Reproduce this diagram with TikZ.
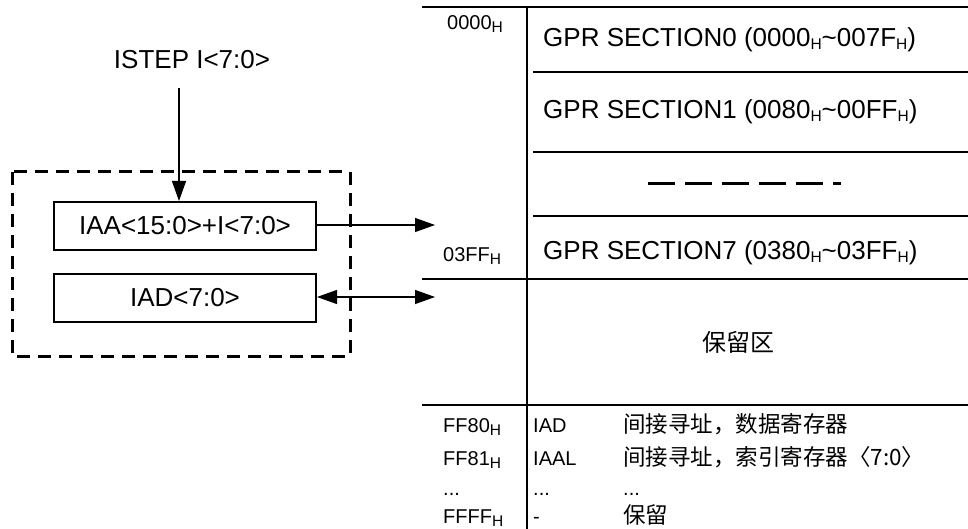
\documentclass[tikz,border=0pt]{standalone}
\usepackage{fontspec}
\setmainfont{Liberation Sans}
\newfontfamily\cjk{Noto Sans CJK SC}
\usetikzlibrary{arrows.meta}
\newcommand{\hx}{\raisebox{-3pt}{\fontsize{15.5}{16}\selectfont H}}
\tikzset{
	reg/.style={draw, line width=2pt, minimum width=262pt, minimum height=48pt, inner sep=0pt, font=\fontsize{26}{30}\selectfont},
	big/.style={inner sep=0pt, font=\fontsize{26}{30}\selectfont},
	addr/.style={inner sep=0pt, anchor=base west, font=\fontsize{20}{22}\selectfont},
	row/.style={inner sep=0pt, anchor=base west, font=\fontsize{20}{22}\selectfont},
	rowcn/.style={inner sep=0pt, anchor=base west, font=\fontsize{22.5}{24}\cjk},
	bus/.style={-{Triangle[length=20pt,width=14pt]}, line width=1.3pt},
	tline/.style={line width=1.3pt},
}
\begin{document}
\begin{tikzpicture}[x=1pt, y=-1pt]
	\useasboundingbox (0,0) rectangle (968,529);
	\draw [line width=3pt, dash pattern=on 13pt off 8pt] (12,172) rectangle (350,356);
	\node [reg] (iaa) at (185,226) {IAA<15:0>+I<7:0>};
	\node [reg] (iad) at (185,298) {IAD<7:0>};
	\node [big, anchor=base] (istep) at (192,69) {ISTEP I<7:0>};
	\coordinate (stepin) at (179,88);
	\coordinate (aout) at (435,225);
	\coordinate (dout) at (435,297);
	\draw [bus] (stepin) -- (stepin |- iaa.north);
	\draw [bus] (iaa.east |- aout) -- (aout);
	\draw [bus, {Triangle[length=20pt,width=14pt]}-{Triangle[length=20pt,width=14pt]}] (iad.east |- dout) -- (dout);
	
	\draw [tline] (422,7) -- (968,7);
	\draw [tline] (527,7) -- (527,529);
	\foreach \y in {72,152,216}
		\draw [tline] (533,\y) -- (968,\y);
	\draw [tline] (422,279) -- (968,279);
	\draw [tline] (422,405) -- (968,405);
	\draw [line width=3pt, dash pattern=on 27pt off 10pt] (648,184) -- (841,184);
	
	\node [addr] (a0) at (447,30) {0000\hx};
	\node [addr] (a7) at (443,261) {03FF\hx};
	\node [big, anchor=base west] (s0) at (543,47) {GPR SECTION0 (0000\hx\textasciitilde 007F\hx)};
	\node [big, anchor=base west] (s1) at (543,119) {GPR SECTION1 (0080\hx\textasciitilde 00FF\hx)};
	\node [big, anchor=base west] (s7) at (543,259) {GPR SECTION7 (0380\hx\textasciitilde 03FF\hx)};
	\node [inner sep=0pt, font=\fontsize{24}{28}\cjk] (rsv) at (738,342) {保留区};
	
	\node [row] (r0a) at (443,432) {FF80\hx};
	\node [row] (r0b) at (533,432) {IAD};
	\node [rowcn] (r0c) at (623,432) {间接寻址，数据寄存器};
	\node [row] (r1a) at (443,465) {FF81\hx};
	\node [row] (r1b) at (533,465) {IAAL};
	\node [rowcn] (r1c) at (623,465) {间接寻址，索引寄存器〈7:0〉};
	\node [row] (r2a) at (443,495) {...};
	\node [row] (r2b) at (533,495) {...};
	\node [row] (r2c) at (623,495) {...};
	\node [row] (r3a) at (443,523) {FFFF\hx};
	\node [row] (r3b) at (533,523) {-};
	\node [rowcn] (r3c) at (623,523) {保留};
\end{tikzpicture}
\end{document}
